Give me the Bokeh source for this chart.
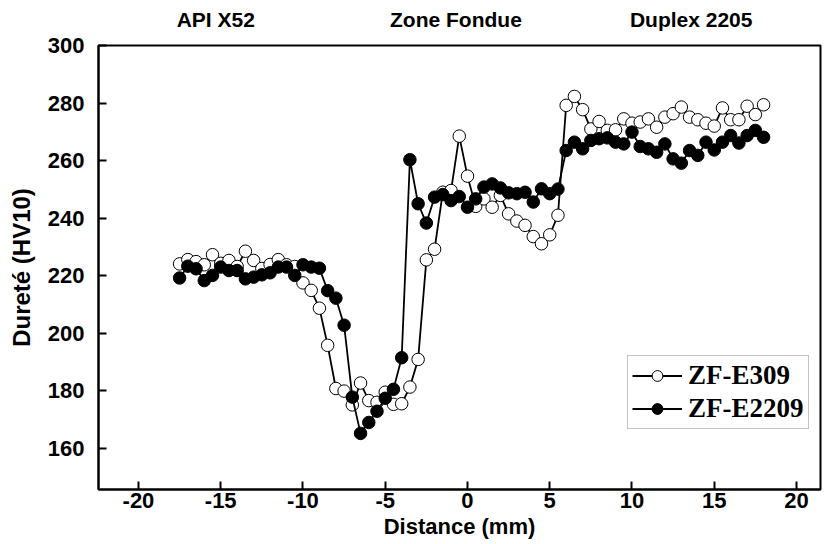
from bokeh.plotting import figure
from bokeh.models import Range1d, Legend, LegendItem, FixedTicker, LinearAxis
from bokeh.embed import file_html
from bokeh.resources import INLINE

# Distance (mm), shared by both profiles
distance = [-17.5, -17.0, -16.5, -16.0, -15.5, -15.0, -14.5, -14.0, -13.5, -13.0,
            -12.5, -12.0, -11.5, -11.0, -10.5, -10.0, -9.5, -9.0, -8.5, -8.0,
            -7.5, -7.0, -6.5, -6.0, -5.5, -5.0, -4.5, -4.0, -3.5, -3.0,
            -2.5, -2.0, -1.5, -1.0, -0.5, 0.0, 0.5, 1.0, 1.5, 2.0,
            2.5, 3.0, 3.5, 4.0, 4.5, 5.0, 5.5, 6.0, 6.5, 7.0,
            7.5, 8.0, 8.5, 9.0, 9.5, 10.0, 10.5, 11.0, 11.5, 12.0,
            12.5, 13.0, 13.5, 14.0, 14.5, 15.0, 15.5, 16.0, 16.5, 17.0,
            17.5, 18.0]

# Hardness HV10, ZF-E309 (open circles)
hv_e309 = [224.1, 225.6, 224.9, 223.8, 227.3, 224.3, 225.3, 223.2, 228.5, 225.3,
           222.5, 223.9, 225.6, 223.8, 223.2, 217.5, 214.9, 208.7, 195.8, 180.8,
           179.9, 175.1, 182.7, 176.6, 176.0, 179.5, 175.3, 175.5, 181.3, 190.9,
           225.5, 229.2, 249.0, 249.6, 268.5, 254.6, 244.1, 246.7, 243.8, 247.9,
           241.5, 239.0, 237.5, 233.6, 231.1, 234.2, 241.0, 279.2, 282.3, 277.7,
           271.0, 273.6, 270.5, 270.7, 274.5, 273.0, 273.4, 274.5, 271.6, 275.1,
           276.3, 278.6, 275.1, 274.2, 273.0, 272.0, 278.3, 274.2, 274.2, 278.9,
           276.0, 279.4]

# Hardness HV10, ZF-E2209 (filled circles)
hv_e2209 = [219.2, 223.3, 222.4, 218.3, 220.1, 223.0, 221.8, 221.8, 218.9, 219.5,
            220.3, 221.0, 223.0, 223.0, 220.1, 223.8, 223.0, 222.6, 214.8, 212.2,
            202.8, 177.8, 165.2, 169.0, 172.9, 177.4, 180.5, 191.5, 260.3, 245.0,
            238.3, 247.3, 248.2, 246.1, 247.5, 243.8, 246.7, 250.8, 251.9, 250.5,
            248.8, 248.5, 249.0, 245.6, 250.2, 248.5, 250.1, 263.5, 266.4, 264.1,
            267.0, 267.6, 267.9, 266.4, 265.8, 269.9, 264.9, 264.1, 262.9, 265.8,
            260.6, 259.1, 263.5, 261.8, 266.4, 263.7, 266.4, 268.7, 266.1, 268.7,
            270.5, 268.1]

x_ticks = [-20, -15, -10, -5, 0, 5, 10, 15, 20]
x_tick_labels = ["-20", "-15", "-10", "-5", "0", "5", "10", "15", "20"]
y_ticks = [160, 180, 200, 220, 240, 260, 280, 300]

zones = ["API X52", "Zone Fondue", "Duplex 2205"]
zone_x = [-15.3, -0.7, 13.6]

FONT = "Liberation Sans"

p = figure(width=823, height=541, output_backend="svg", toolbar_location=None,
           x_range=Range1d(-22.43, 21.46), y_range=Range1d(145.7, 300),
           min_border_left=98, min_border_right=3, min_border_top=45, min_border_bottom=52)

p.background_fill_color = "white"
p.border_fill_color = "white"
p.outline_line_color = "black"
p.outline_line_width = 2
p.xgrid.visible = False
p.ygrid.visible = False

for ax in (p.xaxis[0], p.yaxis[0]):
    ax.axis_line_width = 2
    ax.axis_line_color = "black"
    ax.major_tick_line_width = 2
    ax.major_tick_in = 8
    ax.major_tick_out = 0
    ax.minor_tick_line_color = None
    ax.major_label_text_font = FONT
    ax.major_label_text_font_style = "bold"
    ax.major_label_text_font_size = "22px"
    ax.major_label_text_color = "black"
    ax.axis_label_text_font = FONT
    ax.axis_label_text_font_style = "bold"
    ax.axis_label_text_font_size = "22px"
    ax.axis_label_text_color = "black"

p.yaxis.axis_label_text_font_size = "24px"
p.xaxis.ticker = FixedTicker(ticks=x_ticks)
p.xaxis.major_label_overrides = dict(zip(x_ticks, x_tick_labels))
p.yaxis.ticker = FixedTicker(ticks=y_ticks)
p.xaxis.axis_label = "Distance (mm)"
p.yaxis.axis_label = "Dureté (HV10)"
p.xaxis.major_label_standoff = 3
p.yaxis.major_label_standoff = 14
p.xaxis.axis_label_standoff = 3
p.yaxis.axis_label_standoff = 10

top_axis = LinearAxis(ticker=FixedTicker(ticks=zone_x),
                      major_label_overrides=dict(zip(zone_x, zones)))
top_axis.axis_line_color = None
top_axis.major_tick_line_color = None
top_axis.minor_tick_line_color = None
top_axis.major_label_standoff = 9
top_axis.major_label_text_font = FONT
top_axis.major_label_text_font_style = "bold"
top_axis.major_label_text_font_size = "21px"
top_axis.major_label_text_color = "black"
p.add_layout(top_axis, "above")

l1 = p.line(distance, hv_e309, line_color="black", line_width=1.8)
s1 = p.scatter(distance, hv_e309, size=12.5, marker="circle", fill_color="white",
               line_color="black", line_width=1)
l2 = p.line(distance, hv_e2209, line_color="black", line_width=1.8)
s2 = p.scatter(distance, hv_e2209, size=12.5, marker="circle", fill_color="black",
               line_color="black", line_width=1)

legend = Legend(items=[LegendItem(label="ZF-E309", renderers=[l1, s1]),
                       LegendItem(label="ZF-E2209", renderers=[l2, s2])],
                location=(529, 60))
legend.label_text_font = "Liberation Serif"
legend.label_text_font_style = "bold"
legend.label_text_font_size = "27px"
legend.label_text_color = "black"
legend.glyph_width = 50
legend.glyph_height = 27
legend.label_standoff = 6
legend.spacing = 2
legend.padding = 4
legend.margin = 0
legend.border_line_color = "#888888"
legend.border_line_width = 1
legend.background_fill_alpha = 1
p.add_layout(legend)

open("out.html", "w").write(file_html(p, INLINE))
